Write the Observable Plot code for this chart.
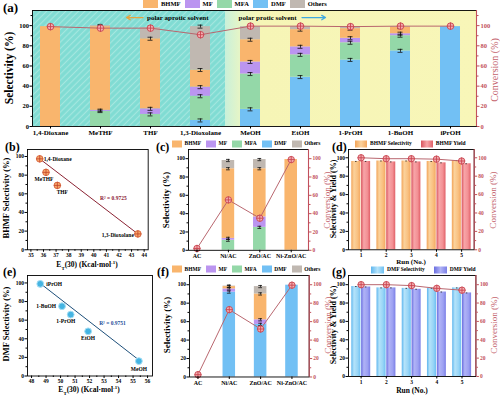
<!DOCTYPE html>
<html><head><meta charset="utf-8">
<script src="https://cdn.jsdelivr.net/npm/d3@7"></script>
<script src="https://cdn.jsdelivr.net/npm/@observablehq/plot@0.6"></script>
<style>
body{margin:0;background:#fff;}
#root{position:relative;width:500px;height:395px;overflow:hidden;font-family:"Liberation Serif","Times New Roman",serif;font-weight:bold;color:#000;background:#fff;}
.t{position:absolute;white-space:nowrap;line-height:1;}
.lg{position:absolute;display:flex;align-items:center;white-space:nowrap;line-height:1;transform:translateY(-50%);}
.lg .sw{display:inline-block;}
sub,sup{font-size:0.65em;line-height:0;}
</style></head>
<body>
<svg width="0" height="0" style="position:absolute"><defs>
  <pattern id="hatchA" patternUnits="userSpaceOnUse" width="4.5" height="4.5" patternTransform="rotate(45)">
    <rect width="4.5" height="4.5" fill="#80dcd3"/>
    <line x1="2.25" y1="0" x2="2.25" y2="4.5" stroke="#a4e7df" stroke-width="1.2"/>
  </pattern>
  <linearGradient id="protic" x1="0" x2="1" y1="0" y2="0">
    <stop offset="0" stop-color="#c9f0da"/>
    <stop offset="0.06" stop-color="#e6f5c6"/>
    <stop offset="0.14" stop-color="#f6f5b6"/>
    <stop offset="1" stop-color="#f8f6b8"/>
  </linearGradient>
  <linearGradient id="gSelO" x1="0" x2="1" y1="0" y2="0">
    <stop offset="0" stop-color="#f2a458"/><stop offset="0.3" stop-color="#fbd29c"/>
    <stop offset="0.7" stop-color="#f9c080"/><stop offset="1" stop-color="#f3a860"/>
  </linearGradient>
  <linearGradient id="gYldR" x1="0" x2="1" y1="0" y2="0">
    <stop offset="0" stop-color="#d9545e"/><stop offset="0.3" stop-color="#f7a5a8"/>
    <stop offset="0.7" stop-color="#f39094"/><stop offset="1" stop-color="#e06068"/>
  </linearGradient>
  <linearGradient id="gSelB" x1="0" x2="1" y1="0" y2="0">
    <stop offset="0" stop-color="#5fb6ee"/><stop offset="0.3" stop-color="#b5e3fa"/>
    <stop offset="0.7" stop-color="#98d5f6"/><stop offset="1" stop-color="#6fc0f2"/>
  </linearGradient>
  <linearGradient id="gYldB" x1="0" x2="1" y1="0" y2="0">
    <stop offset="0" stop-color="#6a6ee0"/><stop offset="0.3" stop-color="#b0b3f6"/>
    <stop offset="0.7" stop-color="#9da1f2"/><stop offset="1" stop-color="#7b7fe6"/>
  </linearGradient>
</defs></svg>
<div id="root"></div>
<script>
// ================= DATA =================
// (a) solvent screening
const solvents = ["1,4-Dioxane","MeTHF","THF","1,3-Dioxolane","MeOH","EtOH","1-PrOH","1-BuOH","iPrOH"];
const aDMF    = [0, 0, 0, 6, 17, 49, 66, 75, 99];
const aMFA    = [0, 15, 12, 24, 35, 22, 17, 15, 0];
const aMF     = [0, 1, 5.5, 9, 12, 8, 4.5, 2, 0];
const aBHMF   = [99, 83, 69.5, 17, 22, 17, 9.5, 6.5, 0];
const aOthers = [0, 1, 11, 43, 13, 3, 2, 0.5, 0];
const aErr    = [0.8, 1.2, 1.5, 1.5, 1.5, 1.5, 1.5, 1.5, 0.8];
const aConv   = [99, 97.5, 97.5, 91, 99.5, 99.5, 99, 99.5, 99.5];
const aNotes  = ["polar aprotic solvent", "polar protic solvent"];

// (b) BHMF selectivity vs ET(30)
const bSolvents = ["1,4-Dioxane","MeTHF","THF","1,3-Dioxolane"];
const bET  = [35.7, 36.2, 37.1, 43.5];
const bSel = [97.5, 83, 69, 17];
const bFitET  = [35.7, 43.5];
const bFitSel = [97.5, 17];
const bR2 = "R² = 0.9725";

// (c) catalysts in aprotic solvent
const catalysts = ["AC","Ni/AC","ZnO/AC","Ni-ZnO/AC"];
const cDMF    = [0, 0, 0, 0];
const cMFA    = [0, 11, 25, 0];
const cMF     = [0, 2, 11.5, 0];
const cBHMF   = [0, 76, 52.5, 99];
const cOthers = [0, 9, 10, 0];
const cErr    = [0.5, 1.2, 1.2, 0.8];
const cConv   = [2, 55, 35, 99];

// (d) BHMF recycling
const runs = [1, 2, 3, 4, 5];
const dSel   = [96, 96.5, 96.5, 96, 97];
const dYield = [96, 95.5, 95.5, 94.5, 93.5];
const dConv  = [100, 99, 99, 98.5, 96.5];

// (e) DMF selectivity vs ET(30)
const eSolvents = ["iPrOH","1-BuOH","1-PrOH","EtOH","MeOH"];
const eET  = [48.6, 50.1, 50.7, 51.9, 55.4];
const eSel = [99, 75, 66, 48, 16];
const eFitET  = [48.6, 55.5];
const eFitSel = [99.5, 16];
const eR2 = "R² = 0.9751";

// (f) catalysts in protic solvent
const fDMF    = [0, 92, 57, 99.5];
const fMFA    = [0, 0, 0, 0];
const fMF     = [0, 3.5, 5, 0];
const fBHMF   = [0, 2.5, 28, 0];
const fOthers = [0, 0.5, 8, 0];
const fErr    = [0.5, 1.2, 1.2, 0.8];
const fConv   = [2.5, 73, 52, 99.5];

// (g) DMF recycling
const gSel   = [98, 96.5, 96, 96, 96.5];
const gYield = [97.5, 96.5, 95, 92, 91];
const gConv  = [100, 100, 99, 96, 94];

// ticks
const pctTicks = [0, 20, 40, 60, 80, 100];
const pctMinor = [10, 30, 50, 70, 90, 110];
const bTicks = [35, 36, 37, 38, 39, 40, 41, 42, 43, 44];
const eTicks = [48, 49, 50, 51, 52, 53, 54, 55, 56];

// ================= STYLE =================
const root = document.getElementById("root");
const FONT = '"Liberation Serif","Times New Roman",serif';
const RED = "#c2505c";
const CONV_LINE = "#b9666e";
const PC = {BHMF:"#f9b56d", MF:"#bb95f0", MFA:"#94d8a8", DMF:"#72c0f4", Others:"#c0b8b1"};
const stackOrder = ["DMF","MFA","MF","BHMF","Others"];
const legendOrder = ["BHMF","MF","MFA","DMF","Others"];

function place(el, left, top) {
  el.style.position = "absolute"; el.style.left = left + "px"; el.style.top = top + "px";
  root.append(el); return el;
}
function txt(html, x, y, {fs = 8, weight = "bold", color = "#000", rot = false, anchor = "middle"} = {}) {
  const d = document.createElement("div");
  d.className = "t"; d.innerHTML = html;
  d.style.left = x + "px"; d.style.top = y + "px";
  d.style.fontSize = fs + "px"; d.style.fontWeight = weight; d.style.color = color;
  const tx = anchor === "middle" ? "-50%" : anchor === "end" ? "-100%" : "0";
  d.style.transform = `translate(${tx},-50%)` + (rot ? " rotate(-90deg)" : "");
  root.append(d);
}
function legend(items, x, cy, {sw, sh, fs, gap, tgap}) {
  const d = document.createElement("div"); d.className = "lg";
  d.style.left = x + "px"; d.style.top = cy + "px"; d.style.fontSize = fs + "px";
  items.forEach(([label, bg], k) => {
    const s = document.createElement("span"); s.className = "sw";
    s.style.width = sw + "px"; s.style.height = sh + "px"; s.style.background = bg;
    if (k > 0) s.style.marginLeft = gap + "px";
    const t = document.createElement("span"); t.textContent = label; t.style.marginLeft = tgap + "px";
    d.append(s, t);
  });
  root.append(d);
}

function stacked(n, series, errs) {
  const rows = [];
  for (let i = 0; i < n; i++) {
    let acc = 0;
    for (const p of stackOrder) {
      const v = series[p][i];
      if (v > 0) { rows.push({i, p, y1: acc, y2: acc + v, e: errs[i]}); acc += v; }
    }
  }
  return rows;
}
function barMarks(rows, hw) {
  return [Plot.rect(rows, {x1: d => d.i - hw, x2: d => d.i + hw, y1: "y1", y2: "y2", fill: "p"})];
}
function errMarks(rows, cap) {
  return [
    Plot.ruleX(rows, {x: "i", y1: d => d.y2 - d.e, y2: d => d.y2 + d.e, stroke: "#111", strokeWidth: 0.8}),
    Plot.ruleY(rows, {y: d => d.y2 + d.e, x1: d => d.i - cap, x2: d => d.i + cap, stroke: "#111", strokeWidth: 0.8}),
    Plot.ruleY(rows, {y: d => d.y2 - d.e, x1: d => d.i - cap, x2: d => d.i + cap, stroke: "#111", strokeWidth: 0.8})
  ];
}
function convMarks(xs, ys, r = 3.2) {
  const data = xs.map((x, i) => ({x, y: ys[i]}));
  return [
    Plot.line(data, {x: "x", y: "y", stroke: CONV_LINE, strokeWidth: 1}),
    Plot.dot(data, {x: "x", y: "y", r, fill: "#f3aeb2", stroke: "#c9444f", strokeWidth: 0.9}),
    Plot.dot(data, {x: "x", y: "y", r: r * 0.75, symbol: "plus", stroke: "#c9444f", strokeWidth: 0.9})
  ];
}

function makePanel({frame, xDomain, yDomain, marks, xTicks, xFormat = d => d, xMinor, yTicks = pctTicks, yMinor = pctMinor, right = false, fsX = 5.5, fsY = 5.5}) {
  const m = [...marks, Plot.frame({stroke: "#000", strokeWidth: 0.9})];
  if (right) m.push(Plot.ruleX([xDomain[1]], {stroke: RED, strokeWidth: 1.1}));
  m.push(Plot.axisX({ticks: xTicks, tickFormat: xFormat, tickSize: 2.5, tickPadding: 1, fontSize: fsX, label: null}));
  if (xMinor) m.push(Plot.axisX({ticks: xMinor, tickFormat: () => "", tickSize: 1.5, label: null}));
  m.push(Plot.axisY({ticks: yTicks, tickSize: 2.5, tickPadding: 1, fontSize: fsY, label: null}));
  m.push(Plot.axisY({ticks: yMinor.filter(v => v < yDomain[1]), tickFormat: () => "", tickSize: 1.5, label: null}));
  if (right) {
    m.push(Plot.axisY({anchor: "right", ticks: yTicks, tickSize: 2.5, tickPadding: 1.5, fontSize: fsY, color: RED, label: null}));
    m.push(Plot.axisY({anchor: "right", ticks: yMinor.filter(v => v < yDomain[1]), tickFormat: () => "", tickSize: 1.5, color: RED, label: null}));
  }
  const svg = Plot.plot({
    width: frame.w, height: frame.h, margin: 0,
    x: {type: "linear", domain: xDomain}, y: {type: "linear", domain: yDomain},
    color: {domain: legendOrder, range: legendOrder.map(p => PC[p])},
    style: {background: "transparent", overflow: "visible", fontFamily: FONT, fontWeight: "bold", fontSize: "6px", color: "#000"},
    marks: m
  });
  place(svg, frame.x, frame.y);
}

// ================= PANEL (a) =================
{
  const xD = [-0.36, 8.52], yD = [0, 115];
  const rows = stacked(solvents.length, {DMF: aDMF, MFA: aMFA, MF: aMF, BHMF: aBHMF, Others: aOthers}, aErr);
  const idx = solvents.map((_, i) => i);
  const split = 3.5;
  makePanel({
    frame: {x: 32, y: 10, w: 444, h: 116}, xDomain: xD, yDomain: yD, right: true,
    xTicks: idx, xFormat: i => solvents[i], fsX: 7, fsY: 6.5,
    marks: [
      Plot.rect([aNotes[0]], {x1: xD[0], x2: split, y1: yD[0], y2: yD[1], fill: "url(#hatchA)"}),
      Plot.rect([aNotes[1]], {x1: split, x2: xD[1], y1: yD[0], y2: yD[1], fill: "url(#protic)"}),
      ...barMarks(rows, 0.2),
      ...errMarks(rows, 0.05),
      ...convMarks(idx, aConv, 3.3),
      Plot.arrow([aNotes[0]], {x1: 1.85, y1: 108, x2: 1.52, y2: 108, stroke: "#e8a33d", strokeWidth: 1.3, headLength: 5}),
      Plot.text([aNotes[0]], {x: 1.93, y: 108, text: d => d, textAnchor: "start", fontSize: 7, fill: "#000"}),
      Plot.text([aNotes[1]], {x: 3.76, y: 108, text: d => d, textAnchor: "start", fontSize: 7, fill: "#000"}),
      Plot.arrow([aNotes[1]], {x1: 5.03, y1: 108, x2: 5.5, y2: 108, stroke: "#3fa8e0", strokeWidth: 1.3, headLength: 5})
    ]
  });
  legend(legendOrder.map(p => [p, PC[p]]), 143, 4, {sw: 15, sh: 8, fs: 6.5, gap: 4, tgap: 3});
  txt("(a)", 3, 7, {fs: 13, anchor: "start"});
  txt("Selectivity (%)", 10, 68, {fs: 11.5, rot: true});
  txt("Conversion (%)", 495, 70, {fs: 10, weight: "normal", color: "#c4626c", rot: true});
}

// ================= PANEL (b) =================
{
  const pts = bSolvents.map((s, i) => ({s, x: bET[i], y: bSel[i]}));
  const fit = bFitET.map((x, i) => ({x, y: bFitSel[i]}));
  const lab = (names, o) => Plot.text(pts.filter(d => names.includes(d.s)), {x: "x", y: "y", text: "s", fontSize: 5.5, ...o});
  makePanel({
    frame: {x: 27.3, y: 149, w: 120.7, h: 100.3}, xDomain: [34.73, 44.32], yDomain: [0, 107.5],
    xTicks: bTicks, xMinor: bTicks.map(v => v + 0.5).slice(0, -1),
    marks: [
      Plot.line(fit, {x: "x", y: "y", stroke: "#8b2232", strokeWidth: 1}),
      Plot.dot(pts, {x: "x", y: "y", r: 3.3, fill: "#f6a86a", stroke: "#d8603a", strokeWidth: 0.9}),
      Plot.dot(pts, {x: "x", y: "y", r: 2.4, symbol: "plus", stroke: "#c2402a", strokeWidth: 0.8}),
      lab(["1,4-Dioxane"], {textAnchor: "start", dx: 4}),
      lab(["MeTHF"], {dx: -2, dy: 7}),
      lab(["THF"], {dx: 5, dy: 7}),
      lab(["1,3-Dioxolane"], {textAnchor: "end", dx: -4, dy: 1}),
      Plot.text([bR2], {x: 40.5, y: 55, text: d => d, textAnchor: "start", fontSize: 5.5, fill: "#8b2232"})
    ]
  });
  txt("(b)", 5, 147, {fs: 12, anchor: "start"});
  txt("BHMF Selectivity (%)", 5.5, 198, {fs: 8.5, rot: true});
  txt("E<sub>T</sub>(30) (Kcal·mol<sup>-1</sup>)", 87, 264.5, {fs: 7.5});
}

// ================= PANEL (c) =================
{
  const rows = stacked(catalysts.length, {DMF: cDMF, MFA: cMFA, MF: cMF, BHMF: cBHMF, Others: cOthers}, cErr);
  const idx = catalysts.map((_, i) => i);
  makePanel({
    frame: {x: 188.3, y: 148.5, w: 120, h: 100.8}, xDomain: [-0.27, 3.55], yDomain: [0, 110], right: true,
    xTicks: idx, xFormat: i => catalysts[i], fsX: 6,
    marks: [...barMarks(rows, 0.2), ...errMarks(rows, 0.06), ...convMarks(idx, cConv)]
  });
  legend(legendOrder.map(p => [p, PC[p]]), 172, 143.5, {sw: 10, sh: 7, fs: 5.5, gap: 5, tgap: 2.5});
  txt("(c)", 156, 147, {fs: 12, anchor: "start"});
  txt("Selectivity (%)", 166, 200, {fs: 9, rot: true});
  txt("Conversion (%)", 326.5, 200, {fs: 9, weight: "normal", color: "#c4626c", rot: true});
}

// ================= PANEL (d) =================
{
  const sel = runs.map((r, i) => ({r, v: dSel[i]}));
  const yld = runs.map((r, i) => ({r, v: dYield[i]}));
  makePanel({
    frame: {x: 348.3, y: 149, w: 125.7, h: 100.3}, xDomain: [0.5, 5.5], yDomain: [0, 109], right: true,
    xTicks: runs,
    marks: [
      Plot.rect(sel, {x1: d => d.r - 0.37, x2: d => d.r - 0.01, y1: 0, y2: "v", fill: "url(#gSelO)"}),
      Plot.rect(yld, {x1: d => d.r + 0.02, x2: d => d.r + 0.38, y1: 0, y2: "v", fill: "url(#gYldR)"}),
      Plot.ruleY(sel, {y: "v", x1: d => d.r - 0.22, x2: d => d.r - 0.16, stroke: "#222", strokeWidth: 0.8}),
      Plot.ruleY(yld, {y: "v", x1: d => d.r + 0.17, x2: d => d.r + 0.23, stroke: "#222", strokeWidth: 0.8}),
      ...convMarks(runs, dConv)
    ]
  });
  legend([["BHMF Selectivity", "linear-gradient(90deg,#f2a458,#fbd29c,#f3a860)"], ["BHMF Yield", "linear-gradient(90deg,#d9545e,#f7a5a8,#e06068)"]], 355, 143.5, {sw: 12, sh: 7, fs: 5.5, gap: 9, tgap: 3});
  txt("(d)", 332, 147, {fs: 12, anchor: "start"});
  txt("Selectivity &amp; Yield (%)", 334, 199, {fs: 8, rot: true});
  txt("Conversion (%)", 493, 200, {fs: 9, weight: "normal", color: "#c4626c", rot: true});
  txt("Run (No.)", 411, 261.5, {fs: 7});
}

// ================= PANEL (e) =================
{
  const pts = eSolvents.map((s, i) => ({s, x: eET[i], y: eSel[i]}));
  const fit = eFitET.map((x, i) => ({x, y: eFitSel[i]}));
  const lab = (names, o) => Plot.text(pts.filter(d => names.includes(d.s)), {x: "x", y: "y", text: "s", fontSize: 5.5, ...o});
  makePanel({
    frame: {x: 26.7, y: 274.5, w: 125, h: 100.5}, xDomain: [47.72, 56.34], yDomain: [0, 108],
    xTicks: eTicks, xMinor: eTicks.map(v => v + 0.5).slice(0, -1),
    marks: [
      Plot.line(fit, {x: "x", y: "y", stroke: "#1d4f7a", strokeWidth: 1}),
      Plot.dot(pts, {x: "x", y: "y", r: 3.4, fill: "#45b4e2", stroke: "#a6def4", strokeWidth: 1}),
      lab(["iPrOH"], {textAnchor: "start", dx: 6}),
      lab(["1-BuOH"], {textAnchor: "end", dx: -6}),
      lab(["1-PrOH"], {dx: -5, dy: 7}),
      lab(["EtOH"], {dy: 7}),
      lab(["MeOH"], {dy: 8}),
      Plot.text([eR2], {x: 52.66, y: 57, text: d => d, textAnchor: "start", fontSize: 5.5, fill: "#1d4f9a"})
    ]
  });
  txt("(e)", 3, 272, {fs: 12, anchor: "start"});
  txt("DMF Selectivity (%)", 5.5, 324, {fs: 8.5, rot: true});
  txt("E<sub>T</sub>(30) (Kcal·mol<sup>-1</sup>)", 89, 390, {fs: 7.5});
}

// ================= PANEL (f) =================
{
  const rows = stacked(catalysts.length, {DMF: fDMF, MFA: fMFA, MF: fMF, BHMF: fBHMF, Others: fOthers}, fErr);
  const idx = catalysts.map((_, i) => i);
  makePanel({
    frame: {x: 189.3, y: 274.5, w: 119.7, h: 101.5}, xDomain: [-0.27, 3.55], yDomain: [0, 110], right: true,
    xTicks: idx, xFormat: i => catalysts[i], fsX: 6,
    marks: [...barMarks(rows, 0.2), ...errMarks(rows, 0.06), ...convMarks(idx, fConv)]
  });
  legend(legendOrder.map(p => [p, PC[p]]), 172, 269, {sw: 10, sh: 7, fs: 5.5, gap: 5, tgap: 2.5});
  txt("(f)", 157, 272, {fs: 12, anchor: "start"});
  txt("Selectivity (%)", 167, 325, {fs: 9, rot: true});
  txt("Conversion (%)", 327.5, 325, {fs: 9, weight: "normal", color: "#c4626c", rot: true});
}

// ================= PANEL (g) =================
{
  const sel = runs.map((r, i) => ({r, v: gSel[i]}));
  const yld = runs.map((r, i) => ({r, v: gYield[i]}));
  makePanel({
    frame: {x: 348.3, y: 275, w: 127.4, h: 101}, xDomain: [0.5, 5.55], yDomain: [0, 110], right: true,
    xTicks: runs,
    marks: [
      Plot.rect(sel, {x1: d => d.r - 0.37, x2: d => d.r - 0.01, y1: 0, y2: "v", fill: "url(#gSelB)"}),
      Plot.rect(yld, {x1: d => d.r + 0.02, x2: d => d.r + 0.38, y1: 0, y2: "v", fill: "url(#gYldB)"}),
      Plot.ruleY(sel, {y: "v", x1: d => d.r - 0.22, x2: d => d.r - 0.16, stroke: "#222", strokeWidth: 0.8}),
      Plot.ruleY(yld, {y: "v", x1: d => d.r + 0.17, x2: d => d.r + 0.23, stroke: "#222", strokeWidth: 0.8}),
      ...convMarks(runs, gConv)
    ]
  });
  legend([["DMF Selectivity", "linear-gradient(90deg,#5fb6ee,#b5e3fa,#6fc0f2)"], ["DMF Yield", "linear-gradient(90deg,#6a6ee0,#b0b3f6,#7b7fe6)"]], 371, 269.5, {sw: 13, sh: 7, fs: 5.5, gap: 9, tgap: 3});
  txt("(g)", 332, 272, {fs: 12, anchor: "start"});
  txt("Selectivity &amp; Yield (%)", 334, 325, {fs: 8, rot: true});
  txt("Conversion (%)", 494, 325, {fs: 9, weight: "normal", color: "#c4626c", rot: true});
  txt("Run (No.)", 412, 390.5, {fs: 7.5});
}
</script>
</body></html>
